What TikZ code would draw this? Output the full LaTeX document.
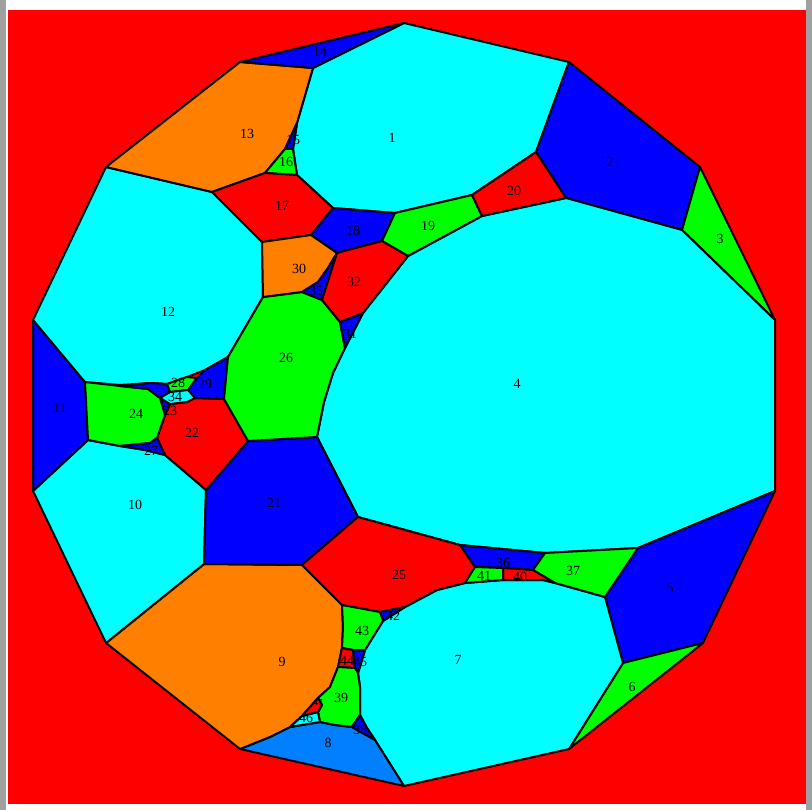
\documentclass[tikz,border=0pt]{standalone}
\usepackage{fontspec}
\setmainfont{Liberation Serif}
\definecolor{cR}{HTML}{FF0000}
\definecolor{cG}{HTML}{00FF00}
\definecolor{cB}{HTML}{0000FF}
\definecolor{cC}{HTML}{00FFFF}
\definecolor{cO}{HTML}{FF8000}
\definecolor{cD}{HTML}{0080FF}
\definecolor{frameg}{HTML}{A0A0A0}
\tikzset{
  region/.style={fill=#1, draw=black, line width=2pt, line join=round},
  lab/.style={inner sep=0pt, font=\fontsize{14}{14}\selectfont, text=black}
}
\begin{document}
\begin{tikzpicture}[x=1pt,y=-1pt]
\useasboundingbox (0,0) rectangle (812,810);
\fill[white] (0,0) rectangle (812,810);
\fill[frameg] (0,0) rectangle (6,810);
\fill[frameg] (806,0) rectangle (812,810);
\fill[cR] (8,10) rectangle (805,803);
\draw[black!70, line width=1pt] (8,803) -- (805,803) -- (805,10);
% regions
\path[region=cC] (404,23)--(569,62)--(536,152)--(472,195)--(395,213)--(333,208)--(297,175)--(293,149)--(297,123)--(313,68)--cycle;
\path[region=cB] (569,62)--(700,167)--(682,230)--(566,198)--(536,152)--cycle;
\path[region=cG] (700,167)--(775,320)--(682,230)--cycle;
\path[region=cC] (408,256)--(482,216)--(566,198)--(682,230)--(775,320)--(775,491)--(638,548)--(545,553)--(460,545)--(358,517)--(317,437)--(324,402)--(333,373)--(345,348)--(363,313)--cycle;
\path[region=cB] (638,548)--(775,491)--(703,643)--(623,663)--(605,597)--cycle;
\path[region=cG] (623,663)--(703,643)--(569,749)--cycle;
\path[region=cC] (405,607)--(437,590)--(465,583)--(503,580)--(543,580)--(555,583)--(605,597)--(623,663)--(569,749)--(404,786)--(375,740)--(367,728)--(360,715)--(360,687)--(358,673)--(365,650)--(383,621)--cycle;
\path[region=cD] (240,749)--(270,737)--(290,727)--(320,722)--(335,725)--(352,727)--(375,740)--(404,786)--cycle;
\path[region=cO] (106,643)--(204,564)--(302,565)--(327,590)--(342,605)--(343,627)--(342,648)--(338,667)--(330,687)--(318,698)--(302,716)--(290,727)--(270,737)--(240,749)--cycle;
\path[region=cC] (33,491)--(88,440)--(120,446)--(145,450)--(165,455)--(185,472)--(206,490)--(204,564)--(106,643)--cycle;
\path[region=cB] (33,320)--(85,382)--(88,440)--(33,491)--cycle;
\path[region=cC] (106,167)--(212,192)--(262,242)--(263,297)--(228,357)--(205,370)--(187,377)--(167,384)--(150,383)--(120,385)--(85,382)--(33,320)--cycle;
\path[region=cO] (240,62)--(313,68)--(297,123)--(285,149)--(265,173)--(212,192)--(106,167)--cycle;
\path[region=cB] (240,62)--(404,23)--(313,68)--cycle;
\path[region=cB] (297,123)--(293,149)--(285,149)--cycle;
\path[region=cG] (285,149)--(293,149)--(297,175)--(265,173)--cycle;
\path[region=cR] (212,192)--(265,173)--(297,175)--(333,208)--(311,235)--(262,242)--cycle;
\path[region=cB] (333,208)--(395,213)--(382,241)--(337,253)--(311,235)--cycle;
\path[region=cG] (382,241)--(395,213)--(472,195)--(482,216)--(408,256)--cycle;
\path[region=cR] (472,195)--(536,152)--(566,198)--(482,216)--cycle;
\path[region=cB] (206,490)--(248,441)--(317,437)--(358,517)--(302,565)--(204,564)--cycle;
\path[region=cR] (157,438)--(165,415)--(170,404)--(187,402)--(195,398)--(224,399)--(248,441)--(206,490)--(185,472)--(165,455)--cycle;
\path[region=cB] (160,398)--(170,404)--(165,415)--cycle;
\path[region=cG] (85,382)--(120,386)--(148,389)--(160,398)--(165,415)--(157,438)--(150,443)--(120,446)--(88,440)--cycle;
\path[region=cB] (120,446)--(150,443)--(157,438)--(165,455)--(145,450)--cycle;
\path[region=cB] (120,386)--(150,383)--(167,384)--(170,392)--(160,398)--(148,389)--cycle;
\path[region=cG] (167,384)--(187,377)--(197,378)--(188,390)--(170,392)--cycle;
\path[region=cB] (197,378)--(205,370)--(228,357)--(224,399)--(195,398)--(188,390)--cycle;
\path[region=cC] (170,392)--(188,390)--(195,398)--(187,402)--(170,404)--(160,398)--cycle;
\path[region=cR] (302,565)--(358,517)--(460,545)--(475,567)--(465,583)--(437,590)--(405,607)--(380,612)--(342,605)--(327,590)--cycle;
\path[region=cG] (263,297)--(302,292)--(322,300)--(340,322)--(345,348)--(333,373)--(324,402)--(317,437)--(248,441)--(224,399)--(228,357)--cycle;
\path[region=cO] (262,242)--(311,235)--(337,253)--(328,268)--(318,282)--(302,292)--(263,297)--cycle;
\path[region=cB] (302,292)--(318,282)--(328,268)--(337,253)--(322,300)--cycle;
\path[region=cR] (337,253)--(382,241)--(408,256)--(363,313)--(340,322)--(322,300)--cycle;
\path[region=cB] (340,322)--(363,313)--(345,348)--cycle;
\path[region=cB] (460,545)--(545,553)--(533,570)--(503,568)--(475,567)--cycle;
\path[region=cG] (545,553)--(638,548)--(605,597)--(555,583)--(533,570)--cycle;
\path[region=cR] (503,568)--(533,570)--(555,583)--(543,580)--(503,580)--cycle;
\path[region=cG] (475,567)--(503,568)--(503,580)--(465,583)--cycle;
\path[region=cB] (380,612)--(405,607)--(383,621)--cycle;
\path[region=cG] (342,605)--(380,612)--(383,621)--(365,650)--(353,650)--(342,648)--(343,627)--cycle;
\path[region=cR] (342,648)--(353,650)--(355,668)--(338,667)--cycle;
\path[region=cB] (353,650)--(365,650)--(358,673)--(355,668)--cycle;
\path[region=cG] (338,667)--(355,668)--(358,673)--(360,687)--(360,715)--(352,727)--(335,725)--(320,722)--(318,712)--(322,705)--(318,698)--(330,687)--cycle;
\path[region=cB] (352,727)--(360,715)--(367,728)--(375,740)--cycle;
\path[region=cC] (290,727)--(302,716)--(318,712)--(320,722)--cycle;
\path[region=cR] (302,716)--(318,698)--(322,705)--(318,712)--cycle;
% labels
\node[lab] (l1) at (392,138) {1};
\node[lab] (l2) at (610,162) {2};
\node[lab] (l3) at (720,239) {3};
\node[lab] (l4) at (517,384) {4};
\node[lab] (l5) at (670,588) {5};
\node[lab] (l6) at (632,687) {6};
\node[lab] (l7) at (458,660) {7};
\node[lab] (l8) at (328,743) {8};
\node[lab] (l9) at (282,662) {9};
\node[lab] (l10) at (135,505) {10};
\node[lab] (l11) at (60,408) {11};
\node[lab] (l12) at (168,312) {12};
\node[lab] (l13) at (247,134) {13};
\node[lab] (l14) at (320,52) {14};
\node[lab] (l15) at (293,140) {15};
\node[lab] (l16) at (286,162) {16};
\node[lab] (l17) at (282,206) {17};
\node[lab] (l18) at (353,231) {18};
\node[lab] (l19) at (428,226) {19};
\node[lab] (l20) at (514,191) {20};
\node[lab] (l21) at (274,503) {21};
\node[lab] (l22) at (192,433) {22};
\node[lab] (l23) at (170,411) {23};
\node[lab] (l24) at (136,414) {24};
\node[lab] (l25) at (399,575) {25};
\node[lab] (l26) at (286,358) {26};
\node[lab] (l27) at (151,451) {27};
\node[lab] (l28) at (178,383) {28};
\node[lab] (l29) at (205,384) {29};
\node[lab] (l30) at (299,269) {30};
\node[lab] (l31) at (350,334) {31};
\node[lab] (l32) at (354,282) {32};
\node[lab] (l34) at (175,397) {34};
\node[lab] (l35) at (316,291) {35};
\node[lab] (l36) at (503,563) {36};
\node[lab] (l37) at (573,571) {37};
\node[lab] (l38) at (360,730) {38};
\node[lab] (l39) at (341,698) {39};
\node[lab] (l40) at (520,577) {40};
\node[lab] (l41) at (484,576) {41};
\node[lab] (l42) at (393,616) {42};
\node[lab] (l43) at (362,631) {43};
\node[lab] (l44) at (347,661) {44};
\node[lab] (l45) at (360,662) {45};
\node[lab] (l46) at (306,718) {46};
\node[lab, font=\fontsize{9}{9}\selectfont] (l47) at (318,703) {47};
\end{tikzpicture}
\end{document}
